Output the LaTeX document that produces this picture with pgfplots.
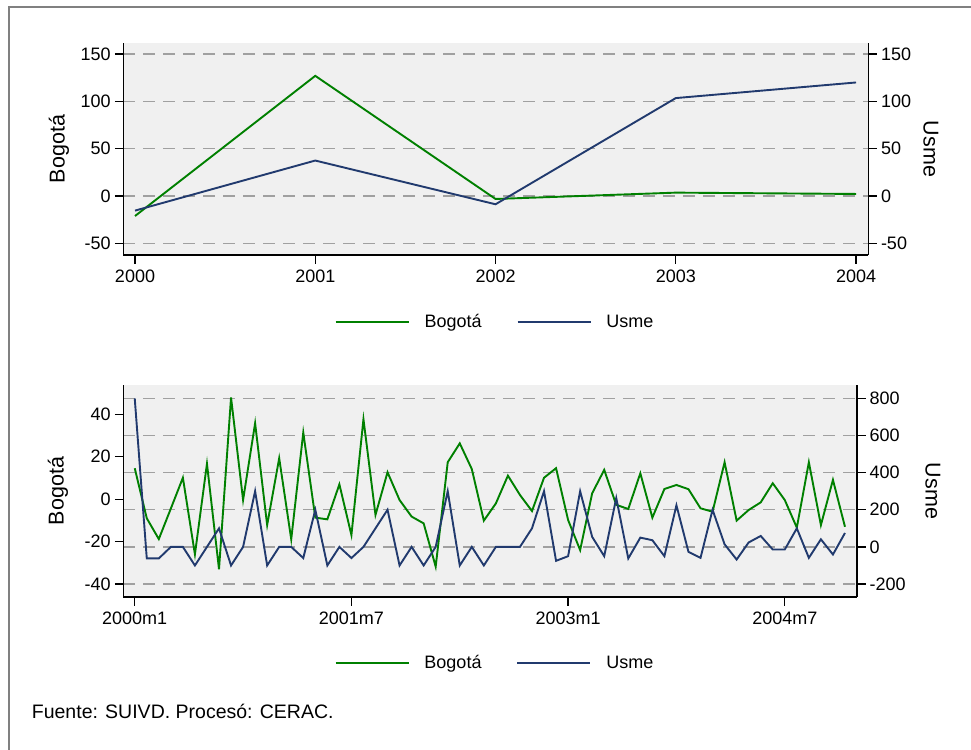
\documentclass[border=0pt]{standalone}
\usepackage{pgfplots}
\pgfplotsset{compat=1.18}
\usepackage{fontspec}
\setmainfont{Liberation Sans}

\definecolor{bgreen}{RGB}{0,128,0}
\definecolor{unavy}{RGB}{33,58,110}
\definecolor{plotbg}{RGB}{240,240,240}
\definecolor{gridc}{RGB}{160,160,160}
\definecolor{framec}{RGB}{128,128,128}

\newcommand{\tickfont}{\fontsize{18}{20}\selectfont}
\newcommand{\titlefont}{\fontsize{21.5}{24}\selectfont}

\pgfplotsset{
  base/.style={
    scale only axis, height=212pt,
    tick align=outside, major tick length=8.5pt,
    axis line style={black, line width=1.3pt, -},
    tick style={black, line width=1.3pt},
    tick label style={font=\tickfont, inner sep=0pt},
    yticklabel style={xshift=-4pt},
    xticklabel style={yshift=-6pt},
    clip=false,
  },
  gridaxis/.style={base,
    axis x line=none, axis y line*=right,
    axis background/.style={fill=plotbg},
    ymajorgrids, major grid style={gridc, line width=1.4pt, dash pattern=on 12pt off 8pt},
    yticklabel style={xshift=8pt},
  },
  leftaxis/.style={base,
    axis x line*=bottom, axis y line*=left,
    legend columns=2,
    legend style={draw=none, fill=none, font=\tickfont, anchor=center,
      /tikz/every even column/.append style={column sep=33pt},
      /tikz/every odd column/.append style={column sep=13pt}},
    legend image code/.code={\draw[#1] (0pt,0pt) -- (73pt,0pt);},
  },
  hiddenaxis/.style={base, hide axis},
  greenline/.style={bgreen, line width=1.9pt},
  navyline/.style={unavy, line width=1.9pt},
}

\pgfplotstableread{
m bog usme
0 14.6 800
1 -9.0 -62
2 -18.8 -62
3 -4.4 0
4 10.1 0
5 -26.0 -100
6 16.7 0
7 -33.0 100
8 47.9 -100
9 -0.4 0
10 35.8 300
11 -12.2 -100
12 19.3 0
13 -18.9 0
14 31.4 -60
15 -8.7 200
16 -9.5 -100
17 7.0 0
18 -16.9 -60
19 37.7 0
20 -7.4 100
21 12.7 200
22 -0.4 -100
23 -8.2 0
24 -11.4 -100
25 -31.8 0
26 17.4 300
27 26.3 -100
28 14.2 0
29 -10.1 -100
30 -2.0 0
31 11.1 0
32 2.0 0
33 -5.6 100
34 10.1 300
35 14.6 -75
36 -9.8 -50
37 -24.0 300
38 2.8 54
39 13.8 -50
40 -2.7 263
41 -4.6 -62
42 12.2 50
43 -8.7 36
44 4.8 -50
45 6.7 224
46 4.7 -27
47 -4.3 -59
48 -5.9 200
49 17.4 14
50 -10.1 -68
51 -5.1 24
52 -1.5 59
53 7.5 -14
54 -0.4 -14
55 -13.4 100
56 17.4 -59
57 -12.2 41
58 9.1 -41
59 -13.0 75
}\monthly

\pgfplotstableread{
yr bog usme
2000 -21.1 -15.4
2001 127.0 37.5
2002 -3.1 -8.7
2003 3.6 103.5
2004 2.2 120.0
}\yearly

\begin{document}
\begin{tikzpicture}
\useasboundingbox (0,0) rectangle (971pt,-749pt);
\fill[white] (0,0) rectangle (971pt,-749pt);
\draw[framec, line width=2pt] (9pt,-760pt) -- (9pt,-7.5pt) -- (985pt,-7.5pt);

% ---- top panel (annual) ----
\begin{axis}[gridaxis, at={(123.3pt,-255pt)}, anchor=south west, width=745pt,
  xmin=1999.935, xmax=2004.068, ymin=-62.3, ymax=161.7,
  ytick={-50,0,50,100,150}, yticklabels={-50,0,50,100,150}]
\end{axis}
\begin{axis}[leftaxis, at={(123.3pt,-255pt)}, anchor=south west, width=745pt,
  xmin=1999.935, xmax=2004.068, ymin=-62.3, ymax=161.7,
  xtick={2000,2001,2002,2003,2004}, xticklabels={2000,2001,2002,2003,2004},
  ytick={-50,0,50,100,150}, yticklabels={-50,0,50,100,150},
  legend style={at={(axis description cs:0.499,-0.316)}}]
\addplot[greenline] table[x=yr, y=bog] {\yearly};
\addlegendentry{Bogotá}
\addlegendimage{navyline}
\addlegendentry{Usme}
\end{axis}
\begin{axis}[hiddenaxis, at={(123.3pt,-255pt)}, anchor=south west, width=745pt,
  xmin=1999.935, xmax=2004.068, ymin=-62.3, ymax=161.7]
\addplot[navyline] table[x=yr, y=usme] {\yearly};
\end{axis}
\node[rotate=90, font=\titlefont] at (59pt,-149pt) {Bogotá};
\node[rotate=-90, font=\titlefont] at (931pt,-149pt) {Usme};

% ---- lower panel (monthly) ----
\begin{axis}[gridaxis, at={(123.3pt,-597pt)}, anchor=south west, width=733.7pt,
  xmin=-0.95, xmax=60, ymin=-269.8, ymax=871.8,
  ytick={-200,0,200,400,600,800}, yticklabels={-200,0,200,400,600,800}]
\end{axis}
\begin{axis}[leftaxis, at={(123.3pt,-597pt)}, anchor=south west, width=733.7pt,
  xmin=-0.95, xmax=60, ymin=-46.1, ymax=53.8,
  xtick={0,18,36,54}, xticklabels={2000m1,2001m7,2003m1,2004m7},
  ytick={-40,-20,0,20,40}, yticklabels={-40,-20,0,20,40},
  legend style={at={(axis description cs:0.5066,-0.311)}}]
\addplot[greenline] table[x=m, y=bog] {\monthly};
\addlegendentry{Bogotá}
\addlegendimage{navyline}
\addlegendentry{Usme}
\end{axis}
\begin{axis}[hiddenaxis, at={(123.3pt,-597pt)}, anchor=south west, width=733.7pt,
  xmin=-0.95, xmax=60, ymin=-269.8, ymax=871.8]
\addplot[navyline] table[x=m, y=usme] {\monthly};
\end{axis}
\node[rotate=90, font=\titlefont] at (58pt,-491pt) {Bogotá};
\node[rotate=-90, font=\titlefont] at (933pt,-491pt) {Usme};

\node[anchor=base west, inner sep=0pt, font=\fontsize{19.5}{22}\selectfont]
  at (31.7pt,-718pt) {Fuente: SUIVD. Procesó: CERAC.};
\end{tikzpicture}
\end{document}
